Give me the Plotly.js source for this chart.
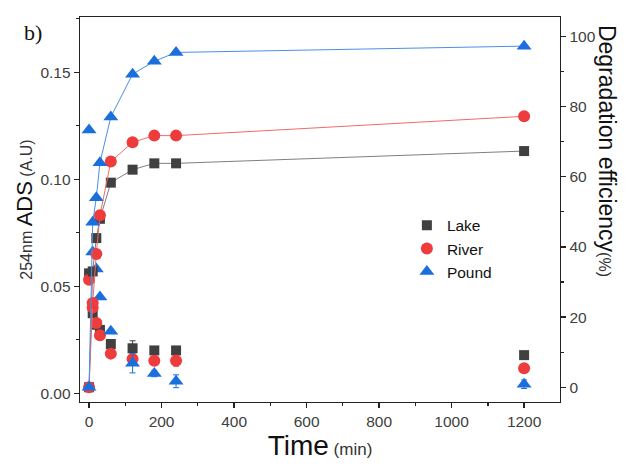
<!DOCTYPE html>
<html>
<head>
<meta charset="utf-8">
<script src="https://cdn.plot.ly/plotly-3.0.1.min.js"></script>
<style>
  html, body { margin: 0; padding: 0; background: #fff; }
  #chart { width: 631px; height: 472px; }
</style>
</head>
<body>
<div id="chart"></div>
<script>
// ---- data ----
const time = [0, 10, 20, 30, 60, 120, 180, 240, 1200];

// 254nm absorbance (left axis)
const lakeADS  = [0.056, 0.0374, 0.032, 0.0296, 0.023, 0.021, 0.020, 0.020, 0.0178];
const riverADS = [0.053, 0.040, 0.0328, 0.0271, 0.0185, 0.016, 0.0152, 0.0152, 0.0117];
const poundADS = [0.123, 0.066, 0.058, 0.045, 0.029, 0.014, 0.0092, 0.0056, 0.0042];

// error bars on absorbance
const lakeErr  = [0, 0, 0, 0, 0, 0.0035, 0.001, 0.0015, 0.001];
const riverErr = [0, 0, 0, 0, 0, 0.0015, 0.0015, 0.0025, 0.001];
const poundErr = [0, 0, 0, 0, 0, 0.0045, 0.0015, 0.003, 0.002];

// degradation efficiency % (right axis)
const lakeEff  = [0, 33, 42.5, 48, 58.3, 62, 63.8, 63.8, 67.3];
const riverEff = [0, 24, 38, 49, 64.3, 69.8, 71.7, 71.7, 77.2];
const poundEff = [0, 47, 54, 64, 77, 89.2, 92.9, 95.4, 97.2];

const names = ['Lake', 'River', 'Pound'];

const markerColor = {Lake: '#404040', River: '#ee3b3b', Pound: '#1b6fdc'};
const lineColor   = {Lake: '#7f7f7f', River: '#f06a6a', Pound: '#4a8fe6'};
const symbol      = {Lake: 'square', River: 'circle', Pound: 'triangle-up'};
const msize       = {Lake: 10, River: 12, Pound: 13};

const ads = {Lake: lakeADS, River: riverADS, Pound: poundADS};
const err = {Lake: lakeErr, River: riverErr, Pound: poundErr};
const eff = {Lake: lakeEff, River: riverEff, Pound: poundEff};

const traces = [];
names.forEach(n => {
  traces.push({
    x: time, y: eff[n], yaxis: 'y2', type: 'scatter', mode: 'lines+markers',
    name: n, legendgroup: n, showlegend: false,
    line: {color: lineColor[n], width: 1},
    marker: {symbol: symbol[n], size: msize[n], color: markerColor[n]}
  });
});
names.forEach(n => {
  traces.push({
    x: time, y: ads[n], yaxis: 'y', type: 'scatter', mode: 'markers',
    name: n, legendgroup: n, showlegend: true,
    marker: {symbol: symbol[n], size: msize[n], color: markerColor[n]},
    error_y: {type: 'data', array: err[n], visible: true, color: markerColor[n], thickness: 1, width: 3}
  });
});

const tickFont = {family: 'Liberation Sans, Arial, sans-serif', size: 15.5, color: '#404040'};
const axisCommon = {
  showgrid: false, zeroline: false, showline: true, linecolor: '#222', linewidth: 1.3,
  ticks: 'outside', ticklen: 5, tickwidth: 1.3, tickcolor: '#222', tickfont: tickFont
};

const layout = {
  width: 631, height: 472,
  margin: {l: 80, r: 71, t: 17, b: 70},
  paper_bgcolor: '#fff', plot_bgcolor: '#fff',
  font: {family: 'Liberation Sans, Arial, sans-serif', color: '#222'},
  showlegend: true,
  legend: {
    x: 0.681, y: 0.502, xanchor: 'left', yanchor: 'top',
    font: {family: 'Liberation Sans, Arial, sans-serif', size: 15.5, color: '#111'},
    bgcolor: 'rgba(0,0,0,0)', tracegroupgap: 0
  },
  xaxis: Object.assign({}, axisCommon, {
    range: [-25, 1299], dtick: 200, tick0: 0, mirror: true,
    minor: {dtick: 100, ticks: 'outside', ticklen: 3, tickcolor: '#222', tickwidth: 1.3},
    title: {text: '<span style="font-size:28px;color:#111">Time</span><span style="font-size:17px;color:#333"> (min)</span>', standoff: 9}
  }),
  yaxis: Object.assign({}, axisCommon, {
    range: [-0.0041, 0.1758], dtick: 0.05, tick0: 0, tickformat: '.2f',
    minor: {dtick: 0.025, ticks: 'outside', ticklen: 3, tickcolor: '#222', tickwidth: 1.3},
    title: {text: '<span style="font-size:16px;color:#333">254nm </span><span style="font-size:22px;color:#111">ADS</span><span style="font-size:16px;color:#333"> (A.U)</span>', standoff: 4}
  }),
  yaxis2: Object.assign({}, axisCommon, {
    overlaying: 'y', side: 'right',
    range: [-4.2, 105.5], dtick: 20, tick0: 0,
    minor: {dtick: 10, ticks: 'outside', ticklen: 3, tickcolor: '#222', tickwidth: 1.3}
  }),
  annotations: [
    {
      text: '<span style="font-size:23px;color:#111">Degradation efficiency</span><span style="font-size:16px;color:#333">(%)</span>',
      xref: 'paper', yref: 'paper', x: 1.098, y: 0.652, xanchor: 'center', yanchor: 'middle',
      textangle: 90, showarrow: false,
      font: {family: 'Liberation Sans, Arial, sans-serif'}
    },
    {
      text: 'b)', xref: 'paper', yref: 'paper', x: -0.098, y: 0.961,
      xanchor: 'center', yanchor: 'middle', showarrow: false,
      font: {family: 'Liberation Serif, Times New Roman, serif', size: 22, color: '#111'}
    }
  ]
};

Plotly.newPlot('chart', traces, layout, {displayModeBar: false, staticPlot: true});
</script>
</body>
</html>
